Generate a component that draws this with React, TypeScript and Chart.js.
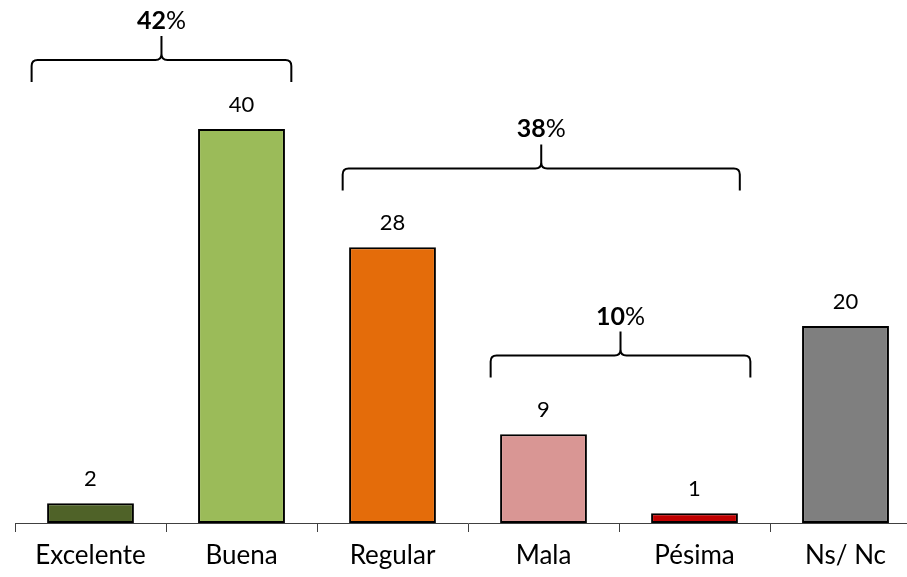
import React, { useEffect, useRef } from "react";
import { Chart, registerables } from "chart.js";

Chart.register(...registerables);

const categories = ["Excelente", "Buena", "Regular", "Mala", "Pésima", "Ns/ Nc"];
const values = [2, 40, 28, 9, 1, 20];
const barColors = ["#4f6228", "#9bbb59", "#e46c0a", "#d99694", "#c00000", "#7f7f7f"];

// Brace annotations: label number, span (category index + fractional offset), level (data value)
const braceNumbers = ["42", "38", "10"];
const braceStart = [-0.39, 1.67, 2.65];
const braceEnd = [1.33, 4.3, 4.37];
const braceLevel = [47, 36, 17];

const FONT = "Lato, 'Open Sans', sans-serif";

const valueLabelPlugin = {
  id: "valueLabels",
  afterDatasetsDraw(chart: any) {
    const ctx = chart.ctx;
    const meta = chart.getDatasetMeta(0);
    ctx.save();
    ctx.fillStyle = "#000";
    ctx.font = `22px ${FONT}`;
    ctx.textAlign = "center";
    ctx.textBaseline = "middle";
    meta.data.forEach((el: any, i: number) => {
      ctx.fillText(String(values[i]), el.x, el.y - 24);
    });
    ctx.restore();
  },
};

const bracePlugin = {
  id: "braces",
  afterDraw(chart: any) {
    const ctx = chart.ctx;
    const xs = chart.scales.x;
    const ys = chart.scales.y;
    ctx.save();
    ctx.strokeStyle = "#000";
    ctx.lineWidth = 2;
    braceNumbers.forEach((num, i) => {
      const x0 = xs.getPixelForValue(braceStart[i]);
      const x1 = xs.getPixelForValue(braceEnd[i]);
      const y = ys.getPixelForValue(braceLevel[i]);
      const xc = (x0 + x1) / 2;
      const r = 6;
      const endDrop = 22;
      const tip = 24;
      ctx.beginPath();
      ctx.moveTo(x0, y + endDrop);
      ctx.lineTo(x0, y + r);
      ctx.quadraticCurveTo(x0, y, x0 + r, y);
      ctx.lineTo(xc - r, y);
      ctx.quadraticCurveTo(xc, y, xc, y - r);
      ctx.lineTo(xc, y - tip);
      ctx.moveTo(x1, y + endDrop);
      ctx.lineTo(x1, y + r);
      ctx.quadraticCurveTo(x1, y, x1 - r, y);
      ctx.lineTo(xc + r, y);
      ctx.quadraticCurveTo(xc, y, xc, y - r);
      ctx.stroke();

      // label: bold number + regular %
      const boldFont = `bold 25px ${FONT}`;
      const regFont = `25px ${FONT}`;
      ctx.font = boldFont;
      const wNum = ctx.measureText(num).width;
      ctx.font = regFont;
      const wPct = ctx.measureText("%").width;
      const start = xc - (wNum + wPct) / 2;
      const ty = y - 39;
      ctx.fillStyle = "#000";
      ctx.textAlign = "left";
      ctx.textBaseline = "middle";
      ctx.font = boldFont;
      ctx.fillText(num, start, ty);
      ctx.font = regFont;
      ctx.fillText("%", start + wNum, ty);
    });
    ctx.restore();
  },
};

export default function App() {
  const ref = useRef<HTMLCanvasElement | null>(null);
  useEffect(() => {
    document.body.style.margin = "0";
    const canvas = ref.current!;
    const chart = new Chart(canvas, {
      type: "bar",
      data: {
        labels: categories,
        datasets: [
          {
            data: values,
            backgroundColor: barColors,
            borderColor: "#000",
            borderWidth: 2,
            borderSkipped: false,
            categoryPercentage: 1,
            barPercentage: 0.575,
          },
        ],
      },
      options: {
        responsive: false,
        animation: false,
        layout: { padding: { left: 15, right: 0, top: 0, bottom: 0 } },
        plugins: {
          legend: { display: false },
          tooltip: { enabled: false },
          title: { display: false },
        },
        scales: {
          x: {
            offset: true,
            grid: {
              display: true,
              offset: true,
              drawOnChartArea: false,
              drawTicks: true,
              tickLength: 9,
              color: "#404040",
              lineWidth: 1,
            },
            border: { display: true, color: "#404040", width: 1 },
            ticks: {
              color: "#000",
              font: { family: FONT, size: 26 },
              padding: 8,
              maxRotation: 0,
              autoSkip: false,
            },
            afterFit(scale: any) {
              scale.height = 54;
            },
          },
          y: {
            display: false,
            min: 0,
            max: 53.1,
          },
        },
      },
      plugins: [valueLabelPlugin, bracePlugin],
    });
    return () => chart.destroy();
  }, []);
  return (
    <div style={{ width: 907, height: 577, overflow: "hidden", background: "#fff" }}>
      <canvas ref={ref} width={921} height={577} style={{ display: "block" }} />
    </div>
  );
}
